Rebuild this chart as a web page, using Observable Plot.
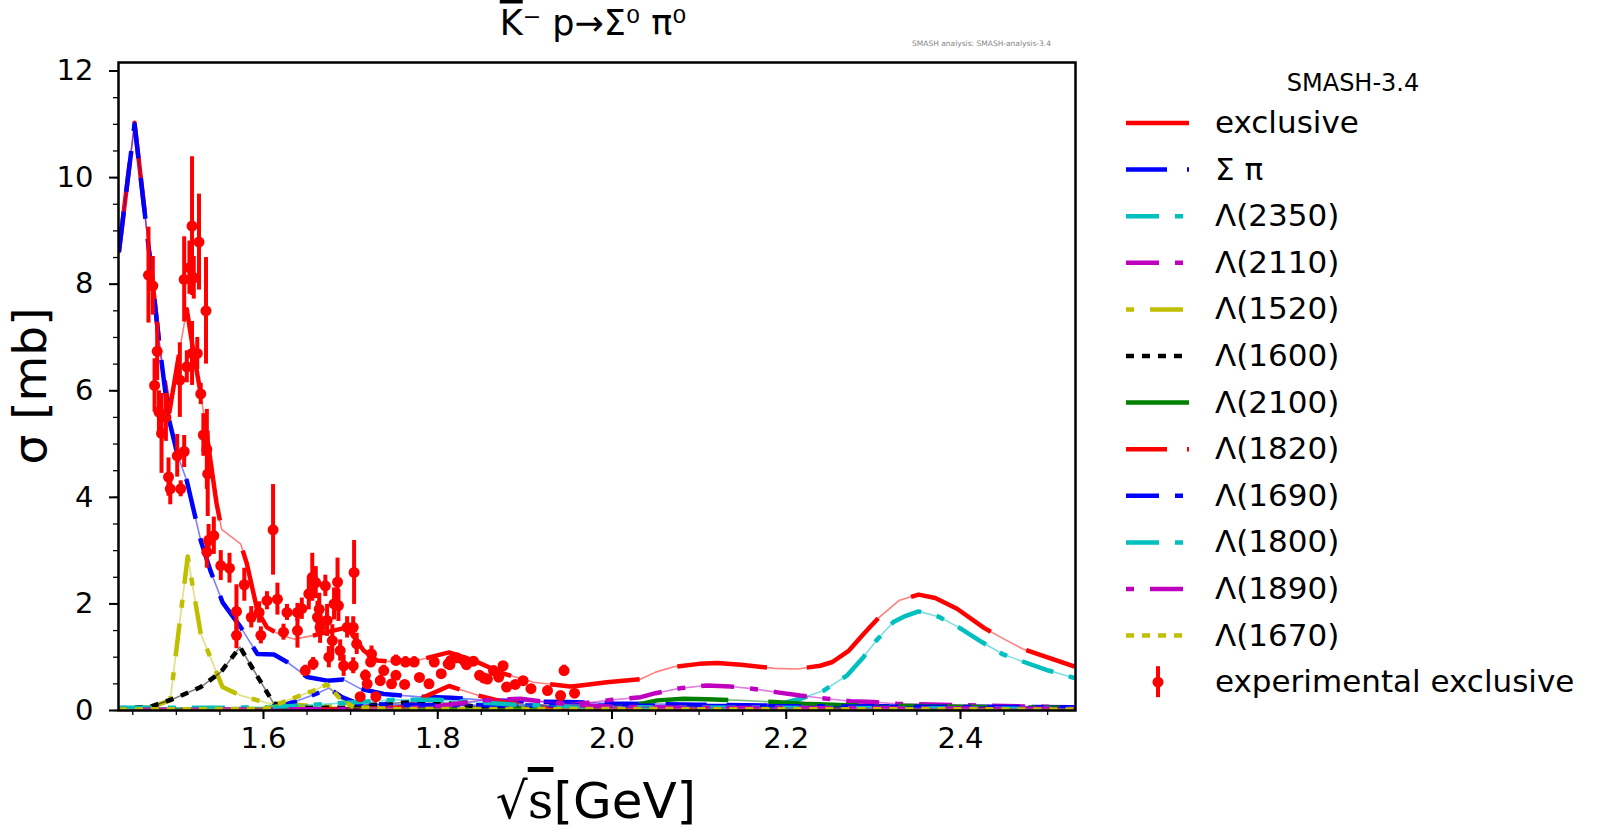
<!DOCTYPE html>
<html>
<head>
<meta charset="utf-8">
<script src="https://cdn.jsdelivr.net/npm/d3@7"></script>
<script src="https://cdn.jsdelivr.net/npm/@observablehq/plot@0.6"></script>
<style>
  body { margin: 0; background: #fff; }
  svg { font-family: "DejaVu Sans", sans-serif; }
</style>
</head>
<body>
<div id="chart"></div>
<script>
// ---- series meta ----
const seriesNames = ["exclusive", "Σ π", "Λ(2350)", "Λ(2110)", "Λ(1520)", "Λ(1600)", "Λ(2100)", "Λ(1820)", "Λ(1690)", "Λ(1800)", "Λ(1890)", "Λ(1670)"];
const seriesColors = ["#ff0000", "#0000ff", "#00bfbf", "#bf00bf", "#bfbf00", "#000000", "#008000", "#ff0000", "#0000ff", "#00bfbf", "#bf00bf", "#bfbf00"];
const seriesDash = ["90,40", "41,20", "33,16,8,16", "33,16,8,16", "8,16,33,16", "8,8", "90,40", "41,20", "33,16,8,16", "33,16,8,16", "8,16,33,16", "8,8"];

// ---- series values: [sqrt(s) GeV, sigma mb] ----
const exclusive = [[1.434,8.6],[1.452,11.03],[1.470,8.44],[1.480,6.94],[1.492,5.6],[1.505,6.88],[1.512,7.53],[1.520,6.69],[1.528,5.94],[1.537,4.94],[1.546,3.9],[1.552,3.4],[1.574,3.12],[1.581,2.75],[1.593,1.875],[1.604,1.56],[1.620,1.41],[1.635,1.34],[1.658,1.41],[1.673,1.47],[1.696,1.56],[1.715,1.125],[1.730,0.94],[1.750,0.91],[1.776,0.94],[1.813,1.09],[1.841,0.94],[1.876,0.69],[1.910,0.53],[1.952,0.45],[1.964,0.47],[1.994,0.53],[2.033,0.59],[2.050,0.72],[2.071,0.82],[2.100,0.875],[2.121,0.89],[2.148,0.86],[2.186,0.79],[2.213,0.78],[2.239,0.84],[2.253,0.91],[2.272,1.125],[2.289,1.44],[2.306,1.74],[2.330,2.07],[2.352,2.175],[2.371,2.11],[2.396,1.91],[2.427,1.55],[2.450,1.34],[2.471,1.16],[2.494,1.03],[2.531,0.825]];
const sigmaPi = [[1.434,8.6],[1.452,11.0],[1.470,8.44],[1.480,6.94],[1.491,5.5],[1.501,4.82],[1.512,4.31],[1.528,3.19],[1.539,2.63],[1.553,2.03],[1.574,1.56],[1.593,1.06],[1.612,1.05],[1.627,0.91],[1.650,0.63],[1.673,0.56],[1.692,0.58],[1.711,0.41],[1.738,0.31],[1.776,0.26],[1.815,0.24],[1.850,0.2],[1.900,0.17],[1.950,0.16],[2.000,0.13],[2.100,0.11],[2.200,0.09],[2.300,0.08],[2.400,0.07],[2.531,0.06]];
const lambda2350 = [[1.434,0.01],[2.000,0.02],[2.100,0.03],[2.178,0.06],[2.216,0.22],[2.243,0.375],[2.270,0.66],[2.287,0.97],[2.304,1.325],[2.323,1.66],[2.335,1.76],[2.352,1.86],[2.375,1.76],[2.398,1.56],[2.425,1.28],[2.448,1.06],[2.473,0.91],[2.501,0.75],[2.531,0.61]];
const lambda2110 = [[1.434,0.01],[1.850,0.03],[1.950,0.1],[2.000,0.2],[2.033,0.25],[2.050,0.325],[2.079,0.42],[2.109,0.47],[2.136,0.45],[2.161,0.41],[2.190,0.34],[2.216,0.28],[2.247,0.22],[2.274,0.175],[2.300,0.16],[2.327,0.125],[2.400,0.1],[2.531,0.06]];
const lambda1520 = [[1.434,0.03],[1.470,0.06],[1.493,0.19],[1.513,2.89],[1.528,1.44],[1.553,0.44],[1.574,0.28],[1.604,0.14],[1.627,0.12],[1.660,0.08],[1.700,0.06],[1.800,0.04],[2.000,0.03],[2.531,0.02]];
const lambda1600 = [[1.434,0.04],[1.470,0.07],[1.497,0.22],[1.528,0.44],[1.551,0.72],[1.573,1.19],[1.589,0.75],[1.612,0.125],[1.640,0.05],[1.700,0.05],[1.720,0.1],[1.760,0.15],[1.790,0.17],[1.820,0.12],[1.850,0.06],[1.900,0.03],[2.531,0.02]];
const lambda2100 = [[1.434,0.01],[1.850,0.02],[1.950,0.05],[2.000,0.09],[2.033,0.125],[2.052,0.19],[2.082,0.22],[2.109,0.21],[2.148,0.19],[2.186,0.16],[2.220,0.125],[2.270,0.1],[2.330,0.09],[2.400,0.07],[2.531,0.05]];
const lambda1820 = [[1.434,0.01],[1.700,0.02],[1.760,0.06],[1.780,0.22],[1.813,0.46],[1.847,0.28],[1.876,0.16],[1.910,0.08],[1.950,0.05],[2.000,0.03],[2.531,0.02]];
const lambda1690 = [[1.434,0.02],[1.600,0.03],[1.620,0.08],[1.635,0.16],[1.660,0.31],[1.675,0.42],[1.690,0.25],[1.710,0.12],[1.800,0.1],[2.000,0.09],[2.200,0.08],[2.531,0.06]];
const lambda1800 = [[1.434,0.05],[1.550,0.05],[1.600,0.06],[1.650,0.1],[1.700,0.15],[1.750,0.2],[1.800,0.2],[1.850,0.15],[1.900,0.1],[2.000,0.06],[2.531,0.03]];
const lambda1890 = [[1.434,0.01],[1.750,0.03],[1.800,0.08],[1.850,0.19],[1.895,0.22],[1.930,0.15],[1.960,0.1],[2.000,0.07],[2.100,0.05],[2.531,0.03]];
const lambda1670 = [[1.434,0.02],[1.600,0.03],[1.612,0.09],[1.642,0.28],[1.658,0.375],[1.673,0.49],[1.688,0.22],[1.704,0.06],[1.750,0.03],[2.531,0.02]];
const seriesValues = [exclusive, sigmaPi, lambda2350, lambda2110, lambda1520, lambda1600, lambda2100, lambda1820, lambda1690, lambda1800, lambda1890, lambda1670];

// ---- experimental exclusive: [sqrt(s), sigma, error] ----
const experimental = [
[1.468,8.17,0.9],[1.473,7.97,0.55],[1.478,6.74,0.55],[1.475,6.10,0.5],[1.480,5.60,0.4],[1.483,5.20,0.75],[1.488,5.50,0.45],
[1.491,4.38,0.36],[1.493,4.16,0.3],[1.505,4.16,0.15],[1.501,4.78,0.4],[1.509,4.86,0.3],[1.504,6.20,0.7],[1.512,6.45,0.3],
[1.509,8.09,0.8],[1.515,8.31,0.5],[1.518,9.09,1.3],[1.520,8.12,0.4],[1.526,8.79,0.9],[1.518,6.70,0.6],[1.524,6.70,0.3],
[1.528,5.94,0.2],[1.534,7.50,1.0],[1.531,5.17,0.4],[1.535,4.90,0.75],[1.536,4.44,0.8],
[1.535,2.97,0.3],[1.543,3.28,0.35],[1.537,3.19,0.3],[1.551,2.72,0.28],[1.561,2.67,0.28],[1.578,2.36,0.31],[1.569,1.86,0.5],
[1.569,1.41,0.25],[1.611,3.39,0.85],[1.586,1.75,0.2],[1.597,1.41,0.16],[1.595,1.84,0.2],[1.604,2.06,0.17],[1.616,2.09,0.3],
[1.623,1.47,0.15],[1.627,1.84,0.15],[1.639,1.84,0.17],[1.639,1.50,0.33],[1.644,1.91,0.2],[1.648,0.75,0.1],[1.652,2.19,0.3],
[1.656,2.50,0.45],[1.657,0.875,0.12],[1.660,2.40,0.3],[1.662,1.75,0.3],[1.664,1.90,0.3],[1.665,1.56,0.3],[1.671,2.34,0.2],
[1.673,1.69,0.3],[1.675,1.00,0.2],[1.679,1.31,0.3],[1.685,2.41,0.45],[1.681,2.00,0.3],[1.686,1.97,0.3],[1.688,1.125,0.2],
[1.692,0.84,0.2],[1.696,1.56,0.2],[1.703,0.84,0.15],[1.703,1.56,0.2],[1.704,2.59,0.6],[1.707,1.25,0.2],[1.711,0.26,0.05],
[1.717,0.66,0.1],[1.719,0.50,0.1],[1.723,0.91,0.1],[1.724,1.06,0.15],[1.729,0.26,0.05],[1.734,0.56,0.1],[1.738,0.75,0.1],
[1.747,0.50,0.08],[1.752,0.66,0.08],[1.752,0.94,0.1],[1.762,0.49,0.05],[1.763,0.91,0.1],[1.773,0.91,0.1],[1.779,0.62,0.05],
[1.790,0.50,0.05],[1.796,0.91,0.07],[1.804,0.69,0.05],[1.812,0.875,0.05],[1.814,0.86,0.05],[1.815,0.94,0.08],[1.822,0.99,0.05],
[1.830,0.94,0.05],[1.833,0.86,0.05],[1.841,0.925,0.08],[1.848,0.66,0.05],[1.853,0.61,0.05],[1.857,0.59,0.05],[1.864,0.75,0.08],
[1.870,0.625,0.05],[1.875,0.84,0.08],[1.879,0.44,0.05],[1.889,0.49,0.05],[1.898,0.56,0.05],[1.907,0.41,0.05],[1.926,0.375,0.04],
[1.941,0.28,0.04],[1.945,0.75,0.1],[1.957,0.325,0.04]
];

// ---- ticks ----
const xMajorTicks = [1.6, 1.8, 2.0, 2.2, 2.4];
const xMinorTicks = d3.range(29, 51).map(i => i * 0.05);
const yMajorTicks = [0, 2, 4, 6, 8, 10, 12];
const yMinorTicks = d3.range(0, 25).map(i => i * 0.5);

// ---- build marks ----
const lineMarks = [];
seriesValues.forEach((vals, i) => {
  const rows = vals.map(([s, v]) => ({s, v}));
  lineMarks.push(Plot.line(rows, {x: "s", y: "v", stroke: seriesColors[i], strokeWidth: 1.6, strokeOpacity: 0.5, clip: true}));
  lineMarks.push(Plot.line(rows, {x: "s", y: "v", stroke: seriesColors[i], strokeWidth: 4.5, strokeDasharray: seriesDash[i], strokeLinecap: "butt", clip: true}));
});
const expRows = experimental.map(([s, v, e]) => ({s, v, e}));

const plot = Plot.plot({
  width: 1600,
  height: 835,
  marginLeft: 118,
  marginRight: 525,
  marginTop: 62,
  marginBottom: 125,
  x: {domain: [1.4336, 2.532]},
  y: {domain: [0, 12.16]},
  style: {fontFamily: "DejaVu Sans", fontSize: "29px", background: "white", color: "black", overflow: "visible"},
  marks: [
    ...lineMarks,
    Plot.ruleX(expRows, {x: "s", y1: d => d.v - d.e, y2: d => d.v + d.e, stroke: "#ff0000", strokeWidth: 4, clip: true}),
    Plot.dot(expRows, {x: "s", y: "v", r: 5.5, fill: "#ff0000", stroke: null, clip: true}),
    Plot.frame({stroke: "black", strokeWidth: 2.5}),
    Plot.axisX(xMinorTicks, {anchor: "bottom", tickSize: 5, strokeWidth: 1.3, tickFormat: () => "", label: null}),
    Plot.axisX(xMajorTicks, {anchor: "bottom", tickSize: 9, strokeWidth: 2, tickPadding: 8, tickFormat: d3.format(".1f"), fontSize: 29, label: null}),
    Plot.axisY(yMinorTicks, {anchor: "left", tickSize: 5, strokeWidth: 1.3, tickFormat: () => "", label: null}),
    Plot.axisY(yMajorTicks, {anchor: "left", tickSize: 9, strokeWidth: 2, tickPadding: 16, tickFormat: d3.format("d"), fontSize: 29, label: null})
  ]
});

document.getElementById("chart").appendChild(plot);

// ---- titles, axis labels and legend as real SVG text ----
const svg = d3.select(plot);
const ns = "DejaVu Sans";

const title = svg.append("text").attr("x", 593).attr("y", 35).attr("text-anchor", "middle")
  .attr("font-size", 35).attr("font-family", ns).attr("fill", "black");
title.append("tspan").style("text-decoration", "overline").text("K");
title.append("tspan").text("⁻ p→Σ⁰ π⁰");

svg.append("text").attr("x", 1051).attr("y", 46).attr("text-anchor", "end")
  .attr("font-size", 7.5).attr("font-family", ns).attr("fill", "#888").text("SMASH analysis: SMASH-analysis-3.4");

const xl = svg.append("text").attr("x", 596).attr("y", 818).attr("text-anchor", "middle")
  .attr("font-size", 50).attr("font-family", ns).attr("fill", "black");
xl.append("tspan").text("√");
xl.append("tspan").attr("font-family", "DejaVu Serif").style("text-decoration", "overline").text("s");
xl.append("tspan").text("[GeV]");

svg.append("text").attr("transform", "translate(46,386) rotate(-90)").attr("text-anchor", "middle")
  .attr("font-size", 47).attr("font-family", ns).attr("fill", "black").text("σ [mb]");

const lg = svg.append("g").attr("font-family", ns).attr("fill", "black").attr("text-anchor", "start");
lg.append("text").attr("x", 1353).attr("y", 91).attr("text-anchor", "middle").attr("font-size", 24).text("SMASH-3.4");
const rowY = i => 123 + i * 46.6;
seriesNames.forEach((name, i) => {
  const y = rowY(i);
  lg.append("line").attr("x1", 1126).attr("x2", 1189).attr("y1", y).attr("y2", y)
    .attr("stroke", seriesColors[i]).attr("stroke-width", 4.5).attr("stroke-dasharray", seriesDash[i]);
  lg.append("text").attr("x", 1215).attr("y", y + 10).attr("font-size", 31).attr("text-anchor", "start").text(name);
});
const ey = rowY(seriesNames.length);
lg.append("line").attr("x1", 1158).attr("x2", 1158).attr("y1", ey - 16).attr("y2", ey + 15).attr("stroke", "#ff0000").attr("stroke-width", 4);
lg.append("circle").attr("cx", 1158).attr("cy", ey).attr("r", 5.5).attr("fill", "#ff0000");
lg.append("text").attr("x", 1215).attr("y", ey + 10).attr("font-size", 31).attr("text-anchor", "start").text("experimental exclusive");
</script>
</body>
</html>
